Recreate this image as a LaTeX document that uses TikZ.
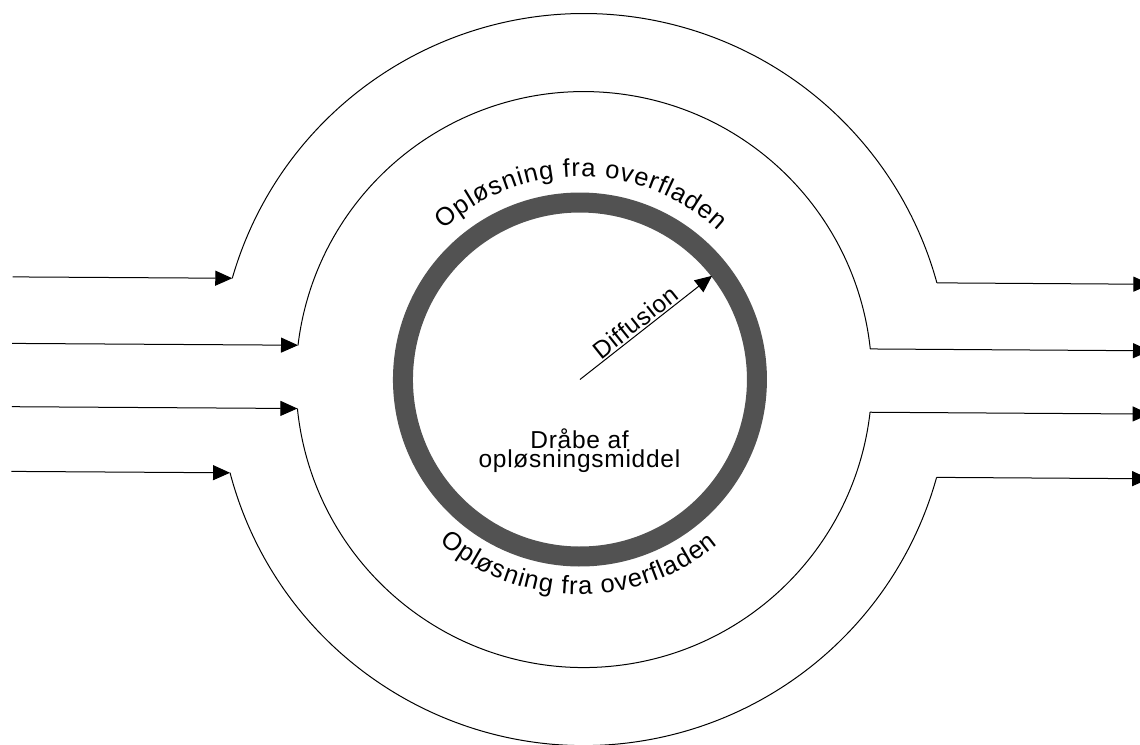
\documentclass[tikz,border=0pt]{standalone}
\usepackage{fontspec}
\setmainfont{Liberation Sans}
\newfontfamily\labfont[LetterSpace=3]{Liberation Sans}
\newfontfamily\curvefont{Liberation Sans}
\usetikzlibrary{arrows.meta,decorations.text}
\begin{document}
\begin{tikzpicture}[x=1pt,y=1pt,
  line/.style={line width=1pt},
  flow/.style={line width=1pt,-{Triangle[length=17pt,width=15pt]}},
  lab/.style={font=\labfont\fontsize{24.5}{21}\selectfont, inner sep=0pt},
  ringfill/.style={fill=black!68}]
\useasboundingbox (0,0) rectangle (1140,744);
\clip (0,0) rectangle (1140,744);
\begin{scope}[rotate around={-0.37:(582,364.5)}]
\coordinate (A) at (584,364.5);
\coordinate (R) at (580,364.5);
\coordinate (west) at (12,0);
\coordinate (east) at (1150,0);
% stream lines around the drop
\path (A) ++(164.3:366) coordinate (oTL);
\draw[line] (oTL) arc[start angle=164.3,end angle=15.7,radius=366] coordinate (oTR);
\path (A) ++(173.52:288) coordinate (iTL);
\draw[line] (iTL) arc[start angle=173.52,end angle=6.48,radius=288] coordinate (iTR);
\path (A) ++(186.14:288) coordinate (iBL);
\draw[line] (iBL) arc[start angle=186.14,end angle=353.86,radius=288] coordinate (iBR);
\path (A) ++(195.13:366) coordinate (oBL);
\draw[line] (oBL) arc[start angle=195.13,end angle=344.87,radius=366] coordinate (oBR);
% incoming
\coordinate (in1) at (west |- oTL);
\coordinate (in2) at (west |- iTL);
\coordinate (in3) at (west |- iBL);
\coordinate (in4) at (west |- oBL);
\draw[flow] (in1) -- (oTL);
\draw[flow] (in2) -- (iTL);
\draw[flow] (in3) -- (iBL);
\draw[flow] (in4) -- (oBL);
% outgoing
\coordinate (out1) at (east |- oTR);
\coordinate (out2) at (east |- iTR);
\coordinate (out3) at (east |- iBR);
\coordinate (out4) at (east |- oBR);
\draw[flow] (oTR) -- (out1);
\draw[flow] (iTR) -- (out2);
\draw[flow] (iBR) -- (out3);
\draw[flow] (oBR) -- (out4);
% the drop's surface layer
\fill[ringfill,even odd rule] (R) circle[radius=187] (R) circle[radius=167];
% diffusion arrow
\path (R) ++(38.5:168) coordinate (dtip);
\draw[flow] (R) -- (dtip) node[lab, pos=0.47, sloped, above, inner sep=1.5pt] (diff) {Diffusion};
% centre text
\node[lab, anchor=base] (drop1) at (580,295) {Dråbe af};
\node[lab, anchor=base] (drop2) at (580,276) {opløsningsmiddel};
% curved labels
\path[font=\curvefont\fontsize{25.5}{25}\selectfont, decorate,
  decoration={text effects along path, text={Opløsning fra overfladen}, text align=center,
    text effects/.cd, text along path,
    characters={font=\curvefont\fontsize{25.5}{25}\selectfont},
    character widths={font=\curvefont\fontsize{25.5}{25}\selectfont, inner xsep=0.5pt}}]
  (R) ++(170:203) arc[start angle=170,end angle=10,radius=203];
\path[font=\curvefont\fontsize{25.5}{25}\selectfont, decorate,
  decoration={text effects along path, text={Opløsning fra overfladen}, text align=center,
    text effects/.cd, text along path,
    characters={font=\curvefont\fontsize{25.5}{25}\selectfont},
    character widths={font=\curvefont\fontsize{25.5}{25}\selectfont, inner xsep=0.5pt}}]
  (R) ++(190:215) arc[start angle=190,end angle=350,radius=215];
\end{scope}
\end{tikzpicture}
\end{document}
